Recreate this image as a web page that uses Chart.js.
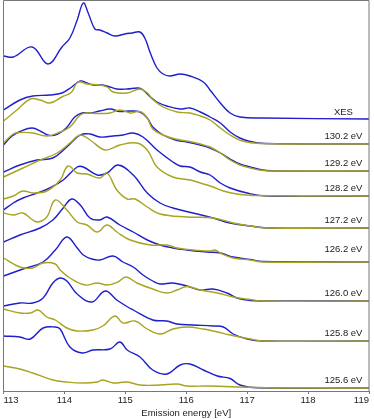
<!DOCTYPE html>
<html>
<head>
<meta charset="utf-8">
<script src="https://cdn.jsdelivr.net/npm/chart.js@4.4.1/dist/chart.umd.min.js"></script>
<style>
  html, body { margin: 0; padding: 0; background: #fff; }
  #wrap { width: 374px; height: 419px; position: relative; }
</style>
</head>
<body>
<div id="wrap"><canvas id="chart"></canvas></div>
<script>
// Spectra, top to bottom. Each curve is [energy eV, intensity above its own baseline].
var labels = ['XES', '130.2 eV', '129.2 eV', '128.2 eV', '127.2 eV', '126.2 eV', '126.0 eV', '125.8 eV', '125.6 eV'];
var offsets = [272, 247, 220, 195, 163, 129, 90, 50, 3];
var labelLift = [7, 8, 8, 8, 8, 13, 8, 8, 8];

var xes = [[113.00,63],[113.16,62],[113.47,72],[113.73,55],[113.96,72],[114.09,81],[114.21,99],[114.31,116],[114.39,106],[114.50,90],[114.58,89],[114.70,86],[114.83,83],[114.99,85],[115.11,86],[115.24,87],[115.32,81],[115.41,66],[115.52,51],[115.62,45],[115.73,43],[115.90,45],[116.06,43],[116.28,37],[116.39,29],[116.56,16],[116.72,6],[116.88,2],[117.26,1],[119,0]];

var blue130 = [[113.00,34],[113.27,44],[113.48,48],[113.76,49],[113.96,51],[114.12,57],[114.26,63],[114.37,61],[114.47,59],[114.62,59],[114.75,57],[114.86,55],[115.03,55],[115.21,56],[115.29,54],[115.41,47],[115.52,42],[115.68,38],[115.90,35],[116.06,36],[116.23,32],[116.39,27],[116.56,21],[116.72,12],[116.88,6],[117.05,2.5],[117.29,0.5],[119,0]];
var olive130 = [[113.00,23],[113.22,34],[113.44,45],[113.60,44],[113.76,41],[113.96,47],[114.12,52],[114.22,62],[114.37,60],[114.58,59],[114.70,57],[114.80,52],[115.03,51],[115.24,55],[115.36,51],[115.46,44],[115.62,37],[115.85,32],[116.06,31],[116.23,28],[116.39,24],[116.56,16],[116.72,9],[116.92,3],[117.21,0.5],[119,0]];

var blue129 = [[113.00,26],[113.14,35],[113.27,39.5],[113.47,43],[113.63,39],[113.76,35.5],[113.89,37],[114.03,43],[114.17,54],[114.29,58],[114.42,58],[114.58,60],[114.75,62],[114.91,59.5],[115.08,60],[115.24,59],[115.36,53],[115.45,44],[115.62,36],[115.82,31],[116.01,29],[116.23,26],[116.39,23],[116.56,18],[116.72,12],[116.88,7],[117.05,4],[117.26,1],[117.54,0],[119,0]];
var olive129 = [[113.00,28],[113.16,37],[113.27,38.5],[113.48,38],[113.71,35],[113.93,39],[114.09,44],[114.26,56],[114.37,58],[114.54,57.5],[114.75,58],[114.91,61],[115.08,58],[115.24,59.5],[115.36,53],[115.45,42],[115.62,36],[115.82,32],[116.01,30],[116.23,27],[116.39,24],[116.56,18],[116.72,11],[116.88,6],[117.05,3],[117.26,0.5],[117.54,0],[119,0]];

var blue128 = [[113.00,24],[113.27,31],[113.55,36],[113.81,38],[114.04,49],[114.26,61],[114.42,62],[114.58,59],[114.80,60],[114.96,61],[115.13,63],[115.29,59],[115.52,46],[115.78,34],[115.90,30],[116.06,29],[116.23,24],[116.39,21],[116.56,13],[116.72,8],[117.00,3],[117.33,0],[119,0]];
var olive128 = [[113.00,19],[113.32,28],[113.60,36],[113.88,43],[114.09,53],[114.26,61],[114.42,56],[114.67,46],[114.91,51],[115.19,53],[115.36,46],[115.52,29],[115.78,19],[116.06,16],[116.23,13],[116.44,9],[116.61,5],[116.83,2],[117.10,0.5],[119,0]];

var blue127 = [[113.00,18],[113.16,25],[113.32,30],[113.55,35],[113.76,40],[113.98,48],[114.21,61],[114.31,61],[114.54,53],[114.70,55],[114.88,63],[115.13,53],[115.36,35],[115.57,25],[115.78,20],[116.11,15],[116.44,10],[116.72,5],[117.05,2],[117.33,0],[119,0]];
var olive127 = [[113.00,29],[113.16,32],[113.32,37],[113.48,35],[113.71,37],[113.93,48],[114.06,62],[114.21,55],[114.37,54],[114.58,50],[114.70,55],[114.86,38],[115.03,29],[115.16,29],[115.36,21],[115.57,14],[116.01,11],[116.44,10],[116.77,5],[117.05,2],[117.33,0],[119,0]];

var blue126 = [[113.00,20],[113.27,27],[113.60,34],[113.81,42],[113.98,54],[114.12,63],[114.26,57],[114.42,44],[114.58,42],[114.70,45],[114.91,37],[115.13,30],[115.36,22],[115.57,17],[115.78,14],[116.01,12],[116.34,10],[116.56,9],[116.77,5],[117.05,2.5],[117.26,0.5],[119,0]];
var olive126 = [[113.00,49],[113.16,47],[113.32,49],[113.48,42],[113.57,40],[113.71,45],[113.85,62],[114.04,52],[114.21,40],[114.37,37],[114.54,30],[114.70,37],[114.86,30],[115.08,22],[115.41,17],[115.68,17],[115.85,14],[116.11,12],[116.39,11],[116.47,12],[116.56,9],[116.77,4],[117.05,2],[117.26,0],[119,0]];

var blue1260 = [[113.00,25],[113.32,32],[113.65,39],[113.85,51],[114.04,64],[114.21,53],[114.31,46],[114.45,42],[114.58,41],[114.80,45],[114.96,39],[115.13,34],[115.29,26],[115.45,20],[115.57,17],[115.78,18],[116.01,15],[116.23,11],[116.44,12],[116.67,8],[116.83,3],[117.05,0.5],[117.26,0],[119,0]];
var olive1260 = [[113.00,43],[113.27,34],[113.48,33],[113.65,38],[113.85,37],[113.93,31],[114.09,23],[114.34,16],[114.54,18],[114.70,16],[114.88,19],[115.01,24],[115.19,18],[115.45,12],[115.68,8],[115.85,11],[116.01,14.5],[116.23,11],[116.51,8],[116.77,4],[117.05,1.5],[117.26,0],[119,0]];

var blue1258 = [[113.00,35],[113.27,38],[113.48,38],[113.65,43],[113.81,58],[113.93,63],[114.04,60],[114.21,47],[114.45,39],[114.67,50],[114.86,41],[115.04,34],[115.13,31],[115.45,21],[115.68,20],[115.85,17],[116.11,16],[116.44,15],[116.61,14],[116.77,7],[117.00,2],[117.26,0],[119,0]];
var olive1258 = [[113.00,32],[113.27,28],[113.44,28],[113.57,31],[113.71,24],[113.85,21],[114.04,13],[114.21,10],[114.47,11],[114.63,15],[114.83,25],[114.96,18],[115.16,20],[115.36,12],[115.57,7],[115.78,12],[116.01,14],[116.28,12],[116.51,9],[116.72,6],[117.05,2],[117.26,0],[119,0]];

var blue1256 = [[113.00,52],[113.27,51],[113.44,49],[113.65,60],[113.85,61],[113.93,59],[114.09,41],[114.29,35],[114.47,38],[114.75,39],[114.91,46],[115.03,38],[115.24,31],[115.45,18],[115.68,14],[115.90,23],[116.06,24],[116.28,18],[116.51,12],[116.72,9.5],[116.88,3],[117.17,0.3],[119,0]];
var olive1256 = [[113.00,22],[113.27,19],[113.48,15],[113.81,8],[114.04,6],[114.31,5],[114.54,6],[114.63,8],[114.80,5],[115.03,6],[115.24,3],[115.57,3],[115.85,4],[116.01,2],[116.34,2],[117.05,0.7],[117.54,0],[119,0]];

var blueCurves = [xes, blue130, blue129, blue128, blue127, blue126, blue1260, blue1258, blue1256];
var oliveCurves = [null, olive130, olive129, olive128, olive127, olive126, olive1260, olive1258, olive1256];

var BLUE = '#1f1fcc';
var OLIVE = '#a8a421';
var FONT = '"Liberation Sans", Arial, sans-serif';

function shifted(curve, off) {
  return curve.map(function(p) { return { x: p[0], y: p[1] + off }; });
}

function line(name, data, color) {
  return { label: name, data: data, borderColor: color, borderWidth: 1.4, pointRadius: 0, tension: 0.4, fill: false };
}

var datasets = [];
labels.forEach(function(name, i) {
  if (oliveCurves[i]) datasets.push(line(name + ' olive', shifted(oliveCurves[i], offsets[i]), OLIVE));
  datasets.push(line(name, shifted(blueCurves[i], offsets[i]), BLUE));
});

var frame = {
  id: 'frame',
  afterDraw: function(chart) {
    var a = chart.chartArea, ctx = chart.ctx;
    ctx.save();
    ctx.strokeStyle = '#777';
    ctx.lineWidth = 1;
    ctx.beginPath();
    ctx.moveTo(a.left, a.bottom);
    ctx.lineTo(a.left, a.top + 0.5);
    ctx.lineTo(a.right, a.top + 0.5);
    ctx.lineTo(a.right, a.bottom);
    ctx.stroke();
    ctx.restore();
  }
};

var spectrumLabels = {
  id: 'spectrumLabels',
  afterDatasetsDraw: function(chart) {
    var ctx = chart.ctx, x = chart.scales.x, y = chart.scales.y;
    ctx.save();
    ctx.font = '9.5px ' + FONT;
    ctx.fillStyle = '#222';
    ctx.textAlign = 'center';
    ctx.textBaseline = 'middle';
    labels.forEach(function(name, i) {
      ctx.fillText(name, x.getPixelForValue(118.58), y.getPixelForValue(offsets[i] + labelLift[i]));
    });
    ctx.restore();
  }
};

new Chart(document.getElementById('chart'), {
  type: 'line',
  data: { datasets: datasets },
  plugins: [frame, spectrumLabels],
  options: {
    responsive: true, maintainAspectRatio: false, animation: false,
    layout: { padding: { left: 3.5, right: 5, top: 0, bottom: 0 } },
    plugins: { legend: { display: false }, tooltip: { enabled: false } },
    scales: {
      x: {
        type: 'linear', min: 113, max: 119,
        ticks: { stepSize: 1, color: '#222', padding: 1, align: 'inner', font: { family: FONT, size: 9.5 } },
        grid: { display: true, drawOnChartArea: false, tickLength: 3, color: '#777' },
        border: { display: true, color: '#777' },
        title: { display: true, text: 'Emission energy [eV]', color: '#222', padding: 0, font: { family: FONT, size: 9.5 } },
        afterFit: function(s) { s.paddingLeft = 0; s.paddingRight = 0; s.height = 28; }
      },
      y: { type: 'linear', min: 0, max: 391, display: false }
    }
  }
});
</script>
</body>
</html>
